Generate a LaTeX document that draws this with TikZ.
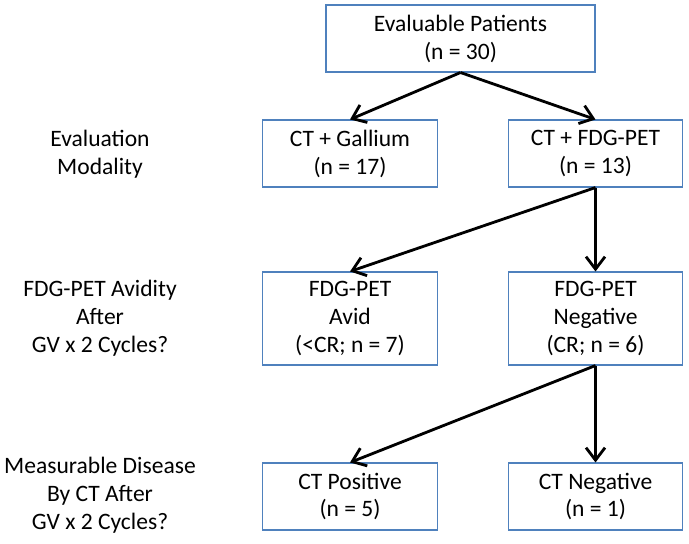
\documentclass[tikz,border=0pt]{standalone}
\usepackage{fontspec}
\setmainfont{Carlito}
\usepackage{xcolor}
\usetikzlibrary{arrows.meta}
\definecolor{BoxEdge}{HTML}{4F81BD}
\definecolor{LineBlack}{HTML}{000000}

\begin{document}
\begin{tikzpicture}[
    font=\fontsize{13.4}{15.9}\selectfont,
    flowbox/.style={draw=BoxEdge, fill=white, line width=0.6pt, align=center,
                    inner sep=0pt, minimum height=1.34cm, minimum width=3.49cm},
    rowlabel/.style={align=center, inner sep=0pt},
    arrow/.style={-{Straight Barb[length=2.5mm, width=3.8mm, line width=1.6pt]},
                  line width=1.6pt, draw=LineBlack}
]
    \useasboundingbox (0,0) rectangle (13.78,-10.86);

    \node[flowbox, minimum width=5.38cm] (patients) at (9.21,-0.77)
        {Evaluable Patients\\(n = 30)};

    \node[flowbox] (gallium) at (7.0,-3.07)
        {CT + Gallium\\(n = 17)};
    \node[flowbox] (fdgpet) at (11.91,-3.07)
        {CT + FDG-PET\\(n = 13)};

    \node[flowbox, minimum height=1.86cm] (avid) at (7.0,-6.37)
        {FDG-PET\\Avid\\(<CR; n = 7)};
    \node[flowbox, minimum height=1.86cm] (negative) at (11.91,-6.37)
        {FDG-PET\\Negative\\(CR; n = 6)};

    \node[flowbox] (ctpos) at (7.0,-9.93)
        {CT Positive\\(n = 5)};
    \node[flowbox] (ctneg) at (11.91,-9.93)
        {CT Negative\\(n = 1)};

    % row labels on the left
    \node[rowlabel] (modality) at (2.0,-3.08)
        {Evaluation\\Modality};
    \node[rowlabel] (avidity) at (2.0,-6.36)
        {FDG-PET Avidity\\After\\GV x 2 Cycles?};
    \node[rowlabel] (measurable) at (2.0,-9.9)
        {Measurable Disease\\By CT After\\GV x 2 Cycles?};

    \draw[arrow] (patients.south) -- (gallium.north);
    \draw[arrow] (patients.south) -- (fdgpet.north);
    \draw[arrow] (fdgpet.south) -- (avid.north);
    \draw[arrow] (fdgpet.south) -- (negative.north);
    \draw[arrow] (negative.south) -- (ctpos.north);
    \draw[arrow] (negative.south) -- (ctneg.north);
\end{tikzpicture}
\end{document}
